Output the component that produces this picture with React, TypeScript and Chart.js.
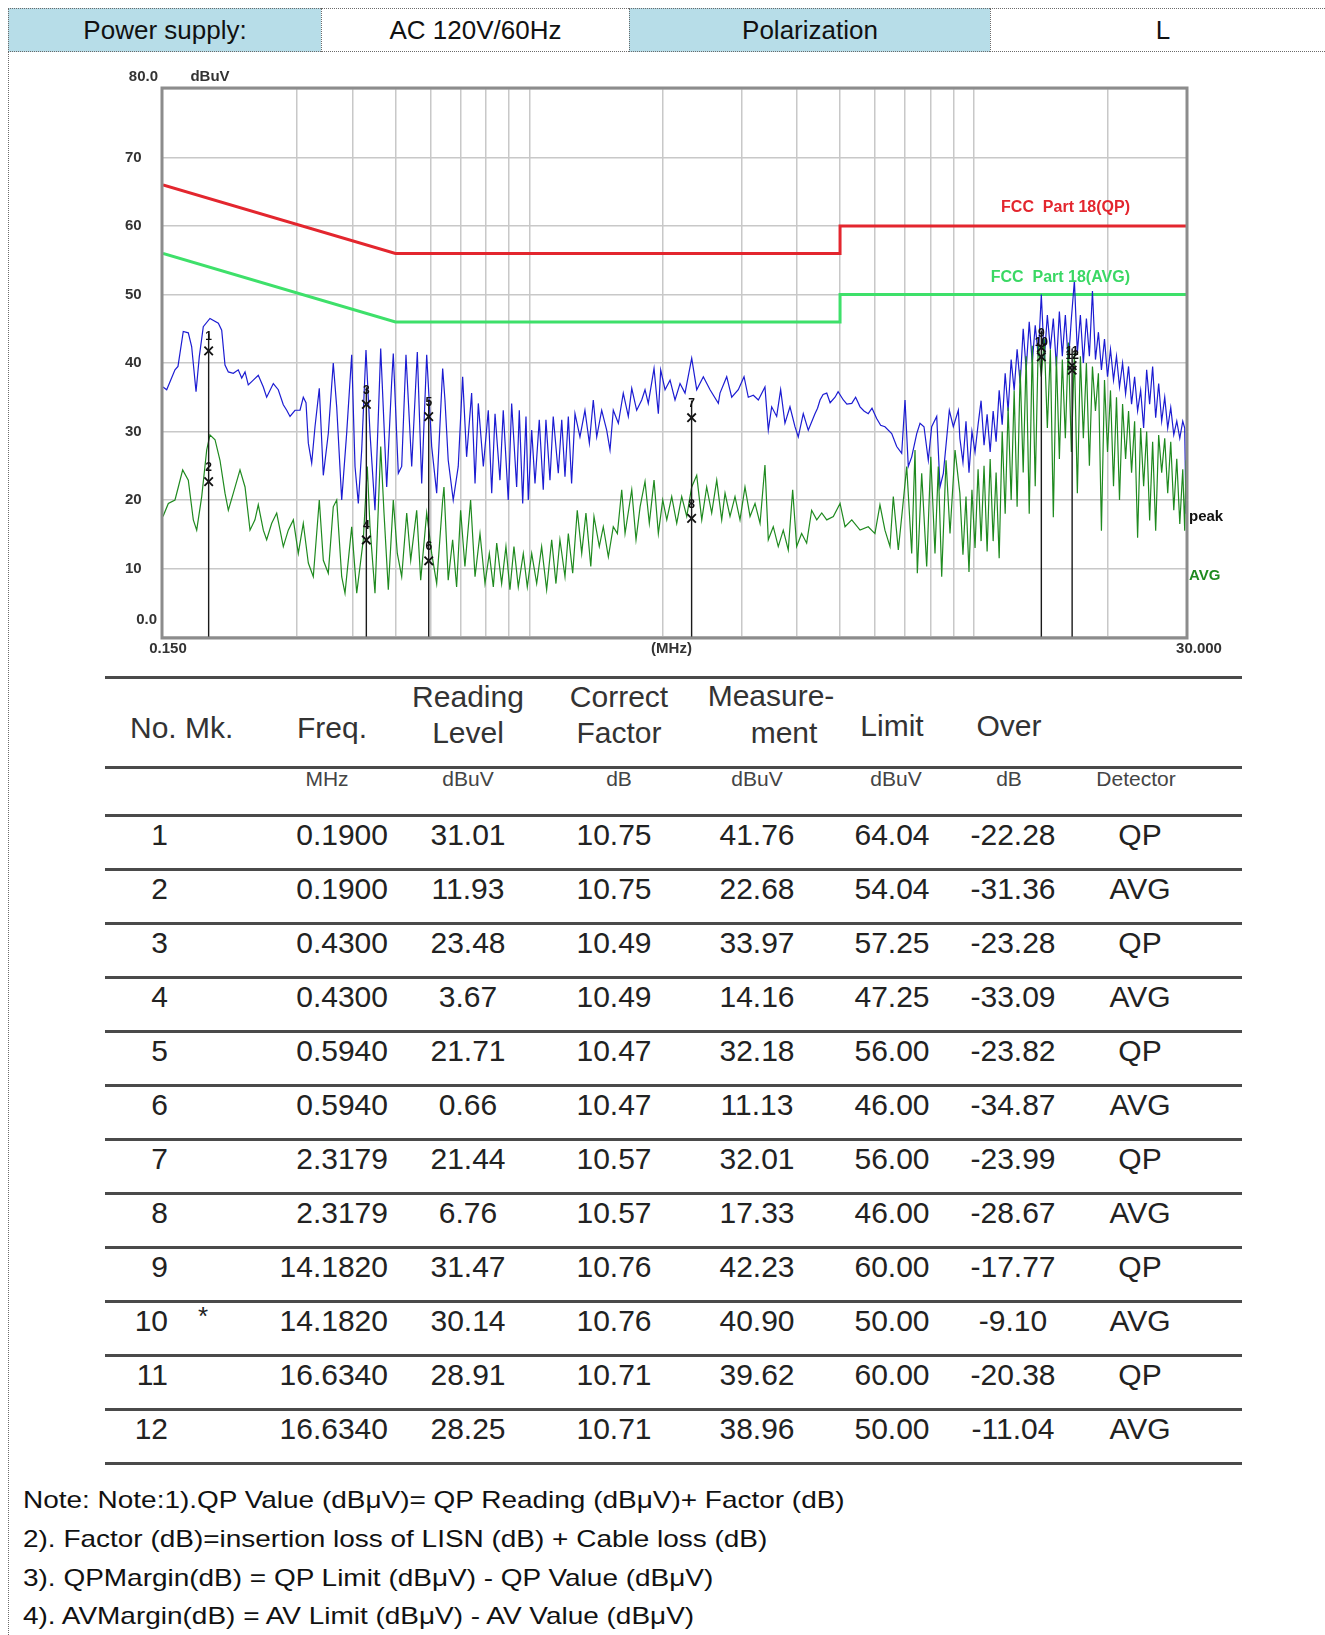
import React, { useEffect, useRef } from "react";
import { Chart, registerables } from "chart.js";

Chart.register(...registerables);

// peak detector scan (blue), MHz / dBuV
const peakFreq = [
    0.150, 0.1529, 0.1596, 0.1621, 0.1666, 0.1710, 0.1740, 0.1780, 0.1810, 0.1848,
    0.1913, 0.1998, 0.2033, 0.2068, 0.2104, 0.2159, 0.2215, 0.2255, 0.2294, 0.2333,
    0.2394, 0.2457, 0.2522, 0.2566, 0.2656, 0.2725, 0.2797, 0.2847, 0.2896, 0.2972,
    0.3050, 0.3102, 0.3146, 0.3184, 0.3240, 0.3296, 0.3370, 0.3441, 0.3531, 0.3623,
    0.3688, 0.3785, 0.3884, 0.3986, 0.4055, 0.4125, 0.4198, 0.4292, 0.4382, 0.4497,
    0.4632, 0.4778, 0.4903, 0.4944, 0.5074, 0.5164, 0.5280, 0.5439, 0.5599, 0.5728,
    0.5878, 0.6032, 0.6190, 0.6385, 0.6461, 0.6571, 0.6744, 0.6921, 0.7081, 0.7228,
    0.7418, 0.7550, 0.7679, 0.7881, 0.8087, 0.8231, 0.8374, 0.8590, 0.8738, 0.8967,
    0.9127, 0.9366, 0.9495, 0.9664, 0.9830, 0.9948, 1.0125, 1.030, 1.053, 1.075,
    1.090, 1.113, 1.132, 1.162, 1.183, 1.203, 1.224, 1.245, 1.267, 1.300,
    1.334, 1.365, 1.393, 1.418, 1.455, 1.493, 1.519, 1.545, 1.586, 1.627,
    1.670, 1.700, 1.744, 1.790, 1.821, 1.852, 1.908, 1.951, 1.975, 2.020,
    2.073, 2.127, 2.183, 2.240, 2.319, 2.380, 2.463, 2.550, 2.662, 2.685,
    2.780, 2.853, 2.952, 3.041, 3.109, 3.191, 3.275, 3.389, 3.448, 3.509,
    3.601, 3.676, 3.759, 3.858, 3.959, 4.027, 4.133, 4.241, 4.391, 4.45,
    4.508, 4.58, 4.667, 4.75, 4.872, 4.95, 5.086, 5.18, 5.313, 5.42,
    5.546, 5.66, 5.786, 5.90, 6.044, 6.17, 6.309, 6.534, 6.705, 6.881,
    7.000, 7.120, 7.247, 7.438, 7.566, 7.723, 7.897, 8.037, 8.249, 8.391,
    8.537, 8.806, 8.990, 9.227,
    9.30, 9.45, 9.60, 9.75, 9.90, 10.06, 10.22, 10.38, 10.54, 10.71,
    10.88, 11.05, 11.22, 11.40, 11.58, 11.76, 11.94, 12.13, 12.32, 12.51,
    12.71, 12.91, 13.11, 13.32, 13.53, 13.74, 13.96, 14.18, 14.40, 14.63,
    14.86, 15.09, 15.33, 15.57, 15.81, 16.06, 16.31, 16.57, 16.83, 17.09,
    17.36, 17.63, 17.91, 18.19, 18.48, 18.77, 19.06, 19.36, 19.67, 19.98,
    20.29, 20.61, 20.93, 21.26, 21.60, 21.94, 22.28, 22.63, 22.99, 23.35,
    23.72, 24.09, 24.47, 24.85, 25.24, 25.64, 26.04, 26.45, 26.87, 27.29,
    27.72, 28.16, 28.60, 29.05, 29.50, 29.80, 30.00,
];
const peakLevel = [
    36.5, 36.1, 39.0, 39.5, 44.6, 44.4, 42.4, 35.8, 40.9, 45.3,
    46.5, 45.8, 44.8, 39.7, 38.7, 38.5, 39.0, 37.8, 38.7, 36.8,
    37.5, 38.2, 36.5, 35.0, 37.0, 36.1, 33.9, 33.1, 32.2, 33.1,
    33.1, 35.0, 34.2, 28.3, 25.4, 30.7, 36.3, 23.6, 29.7, 40.0,
    33.6, 20.0, 29.8, 41.2, 24.9, 19.5, 27.3, 41.9, 29.8, 18.5,
    42.1, 21.9, 37.3, 41.4, 23.9, 24.9, 41.2, 24.9, 41.6, 22.4,
    41.2, 27.8, 21.0, 39.2, 34.6, 25.8, 20.0, 24.9, 38.0, 26.3,
    35.6, 22.4, 34.1, 24.9, 33.1, 21.0, 32.6, 22.9, 33.1, 20.0,
    34.1, 21.9, 33.1, 19.5, 32.2, 20.0, 30.2, 22.4, 31.7, 21.5,
    31.7, 22.9, 32.2, 23.9, 31.7, 23.4, 32.2, 22.4, 32.6, 29.2,
    33.1, 28.3, 34.6, 29.2, 33.1, 30.2, 27.3, 33.1, 31.2, 35.6,
    32.2, 36.3, 33.1, 34.6, 36.1, 34.1, 39.2, 32.6, 39.0, 36.1,
    37.5, 34.6, 37.0, 35.6, 40.7, 36.1, 38.0, 36.1, 34.1, 35.6,
    38.0, 35.0, 36.1, 38.0, 35.0, 35.3, 34.6, 36.5, 30.2, 33.6,
    32.2, 36.1, 31.2, 33.6, 30.7, 29.2, 32.6, 30.2, 32.6, 33.4,
    34.6, 35.4, 35.6, 34.2, 35.0, 35.8, 34.6, 34.0, 34.1, 35.0,
    33.6, 33.0, 32.6, 33.4, 31.9, 30.9, 30.7, 29.7, 27.8, 26.8,
    34.6, 24.9, 26.3, 29.7, 31.2, 30.7, 25.8, 30.7, 32.2, 21.9,
    23.9, 33.1, 30.7, 33.1,
    29.0, 25.5, 31.5, 24.0, 30.0, 27.0, 31.0, 34.5, 28.0, 32.5,
    27.0, 33.0, 28.5, 36.0, 31.0, 38.5, 33.0, 40.5, 36.0, 42.0,
    37.0, 45.0, 39.0, 46.0, 40.0, 45.5, 41.0, 50.0, 40.5, 47.0,
    42.0, 46.5, 39.5, 47.5, 41.0, 47.0, 40.0, 46.5, 52.0, 41.5,
    47.0, 40.0, 46.5, 41.0, 50.5, 40.5, 44.5, 39.0, 43.5, 38.0,
    42.0, 37.5, 41.0, 36.5, 40.0, 35.5, 39.5, 34.0, 38.0, 33.0,
    36.0, 30.5, 39.0, 34.0, 39.5, 32.0, 37.0, 31.5, 35.0, 30.5,
    33.5, 29.5, 31.5, 29.0, 31.5, 30.5, 18.0,
];

// average detector scan (green), MHz / dBuV
const avgFreq = [
    0.150, 0.1542, 0.1596, 0.1624, 0.1661, 0.1710, 0.1755, 0.1786, 0.1833, 0.1881,
    0.1913, 0.1964, 0.2015, 0.2068, 0.2104, 0.2159, 0.2235, 0.2294, 0.2354, 0.2415,
    0.2457, 0.2522, 0.2566, 0.2634, 0.2703, 0.2797, 0.2870, 0.2946, 0.3023, 0.3102,
    0.3184, 0.3267, 0.3370, 0.3441, 0.3531, 0.3623, 0.3688, 0.3785, 0.3850, 0.3986,
    0.4091, 0.4233, 0.4321, 0.4382, 0.4497, 0.4632, 0.4712, 0.4818, 0.4944, 0.5048,
    0.5164, 0.5300, 0.5411, 0.5581, 0.5698, 0.5878, 0.6032, 0.6190, 0.6385, 0.6428,
    0.6571, 0.6723, 0.6863, 0.7007, 0.7165, 0.7379, 0.7550, 0.7747, 0.7950, 0.8130,
    0.8300, 0.8447, 0.8666, 0.8861, 0.9047, 0.9236, 0.9446, 0.9694, 0.9897, 1.0125,
    1.039, 1.066, 1.094, 1.123, 1.148, 1.172, 1.203, 1.224, 1.252, 1.282,
    1.312, 1.341, 1.375, 1.398, 1.437, 1.467, 1.506, 1.545, 1.578, 1.614,
    1.642, 1.700, 1.738, 1.775, 1.821, 1.862, 1.908, 1.951, 1.996, 2.038,
    2.091, 2.146, 2.202, 2.260, 2.319, 2.380, 2.443, 2.506, 2.572, 2.640,
    2.709, 2.756, 2.828, 2.902, 2.978, 3.056, 3.137, 3.219, 3.304, 3.389,
    3.448, 3.538, 3.631, 3.726, 3.824, 3.912, 3.994, 4.098, 4.206, 4.316,
    4.432, 4.548, 4.667, 4.829, 5.000, 5.131, 5.313, 5.546, 5.786, 5.990,
    6.148, 6.309, 6.476, 6.588, 6.761, 6.917, 7.062, 7.247, 7.372, 7.461,
    7.632, 7.832, 8.000, 8.176, 8.317, 8.465, 8.657, 8.838, 9.070,
    9.30, 9.45, 9.60, 9.75, 9.90, 10.06, 10.22, 10.38, 10.54, 10.71,
    10.88, 11.05, 11.22, 11.40, 11.58, 11.76, 11.94, 12.13, 12.32, 12.51,
    12.71, 12.91, 13.11, 13.32, 13.53, 13.74, 13.96, 14.18, 14.40, 14.63,
    14.86, 15.09, 15.33, 15.57, 15.81, 16.06, 16.31, 16.57, 16.83, 17.09,
    17.36, 17.63, 17.91, 18.19, 18.48, 18.77, 19.06, 19.36, 19.67, 19.98,
    20.29, 20.61, 20.93, 21.26, 21.60, 21.94, 22.28, 22.63, 22.99, 23.35,
    23.72, 24.09, 24.47, 24.85, 25.24, 25.64, 26.04, 26.45, 26.87, 27.29,
    27.72, 28.16, 28.60, 29.05, 29.50, 29.80, 30.00,
];
const avgLevel = [
    17.6, 19.5, 20.0, 21.9, 24.4, 22.9, 17.1, 15.6, 20.5, 27.3,
    29.5, 28.8, 25.8, 21.0, 18.5, 21.0, 24.4, 21.9, 15.6, 17.1,
    19.3, 15.6, 14.2, 16.6, 18.1, 13.2, 15.6, 17.1, 12.2, 16.6,
    10.8, 8.8, 20.0, 11.2, 9.3, 19.0, 20.0, 8.8, 6.4, 16.1,
    6.4, 14.2, 24.9, 16.1, 6.4, 27.8, 18.1, 6.9, 20.0, 12.2,
    8.8, 18.1, 11.2, 18.5, 8.3, 18.1, 12.2, 7.8, 20.0, 21.9,
    8.3, 14.2, 7.3, 18.5, 10.3, 20.0, 8.8, 15.1, 7.8, 12.2,
    7.3, 13.7, 7.8, 13.2, 6.9, 13.2, 7.3, 12.2, 7.3, 12.2,
    7.8, 13.2, 6.9, 14.2, 7.8, 14.2, 8.8, 15.1, 9.3, 18.5,
    12.2, 18.1, 10.3, 17.6, 13.2, 16.1, 11.7, 16.1, 15.1, 21.5,
    15.1, 21.5, 14.2, 19.0, 22.7, 16.6, 22.9, 15.1, 20.0, 17.1,
    20.5, 16.6, 20.5, 17.6, 21.9, 23.6, 17.1, 21.9, 18.1, 22.9,
    17.1, 21.0, 17.6, 20.5, 17.1, 21.9, 17.6, 19.5, 16.6, 25.1,
    14.2, 16.1, 13.2, 15.6, 12.7, 21.5, 13.2, 15.1, 13.7, 18.5,
    17.1, 18.1, 17.1, 17.6, 19.5, 16.1, 17.1, 15.6, 16.1, 15.1,
    19.3, 15.6, 13.2, 20.5, 12.7, 19.0, 24.9, 12.2, 27.3, 9.3,
    23.9, 10.3, 26.3, 12.2, 24.9, 8.8, 25.8, 15.1, 27.3,
    21.0, 12.0, 20.5, 9.5, 21.5, 13.0, 24.5, 14.0, 25.0, 12.5,
    26.0, 14.0, 24.0, 11.5, 30.0, 18.0, 33.5, 20.0, 36.0, 19.0,
    39.0, 24.0, 41.0, 18.0, 42.5, 22.0, 43.0, 38.0, 43.5, 30.5,
    42.0, 17.5, 41.0, 26.0, 40.5, 29.0, 43.0, 27.0, 41.5, 21.0,
    41.0, 29.0, 40.0, 25.0, 39.5, 33.0, 38.5, 15.5, 37.5, 27.0,
    36.0, 22.0, 35.0, 20.0, 34.0, 26.0, 33.0, 24.0, 31.5, 14.5,
    30.5, 22.0, 30.0, 17.0, 28.5, 15.5, 29.5, 24.0, 29.0, 21.0,
    28.5, 18.5, 26.0, 16.5, 24.5, 15.5, 25.8,
];

const qpLimitFreq = [0.15, 0.5, 5, 5, 30];
const qpLimitLevel = [66, 56, 56, 60, 60];
const avLimitFreq = [0.15, 0.5, 5, 5, 30];
const avLimitLevel = [56, 46, 46, 50, 50];

const gridFreqs = [0.3, 0.4, 0.5, 0.6, 0.7, 0.8, 0.9, 1, 2, 3, 4, 5, 6, 7, 8, 9, 10, 20];
const levelLabels = [70, 60, 50, 40, 30, 20, 10];

// result table
const markerNo = [1, 2, 3, 4, 5, 6, 7, 8, 9, 10, 11, 12];
const markerMk = ["", "", "", "", "", "", "", "", "", "*", "", ""];
const markerFreq = [0.19, 0.19, 0.43, 0.43, 0.594, 0.594, 2.3179, 2.3179, 14.182, 14.182, 16.634, 16.634];
const readingLevel = [31.01, 11.93, 23.48, 3.67, 21.71, 0.66, 21.44, 6.76, 31.47, 30.14, 28.91, 28.25];
const correctFactor = [10.75, 10.75, 10.49, 10.49, 10.47, 10.47, 10.57, 10.57, 10.76, 10.76, 10.71, 10.71];
const measurement = [41.76, 22.68, 33.97, 14.16, 32.18, 11.13, 32.01, 17.33, 42.23, 40.90, 39.62, 38.96];
const limitLevel = [64.04, 54.04, 57.25, 47.25, 56.00, 46.00, 56.00, 46.00, 60.00, 50.00, 60.00, 50.00];
const overLevel = [-22.28, -31.36, -23.28, -33.09, -23.82, -34.87, -23.99, -28.67, -17.77, -9.10, -20.38, -11.04];
const detector = ["QP", "AVG", "QP", "AVG", "QP", "AVG", "QP", "AVG", "QP", "AVG", "QP", "AVG"];

const notes = [
    "Note: Note:1).QP Value (dBμV)= QP Reading (dBμV)+ Factor (dB)",
    "2). Factor (dB)=insertion loss of LISN (dB) + Cable loss (dB)",
    "3). QPMargin(dB) = QP Limit (dBμV) - QP Value (dBμV)",
    "4). AVMargin(dB) = AV Limit (dBμV) - AV Value (dBμV)",
];

const zip = (xs: number[], ys: (number | null)[]) => xs.map((x, i) => ({ x, y: ys[i] }));

const CHART_FONT = "Arial, 'Liberation Sans', sans-serif";

const labelPlugin = {
    id: "emcLabels",
    afterDatasetsDraw(chart: any) {
        const { ctx, chartArea: a, scales } = chart;
        const sx = scales.x;
        const sy = scales.y;
        const text = (s: string, x: number, y: number, align: CanvasTextAlign,
            color = "#333", font = `bold 15px ${CHART_FONT}`) => {
            ctx.font = font;
            ctx.fillStyle = color;
            ctx.textAlign = align;
            ctx.textBaseline = "middle";
            ctx.fillText(s, x, y);
        };
        ctx.save();
        // plot frame
        ctx.strokeStyle = "#8c8c8c";
        ctx.lineWidth = 3;
        ctx.strokeRect(a.left - 1, a.top - 1, a.right - a.left + 2, a.bottom - a.top + 2);

        // axis labels
        levelLabels.forEach((v) => text(String(v), a.left - 38, sy.getPixelForValue(v), "left"));
        text("80.0", a.left - 5, a.top - 12, "right");
        text("dBuV", a.left + 47, a.top - 12, "center");
        text("0.0", a.left - 6, a.bottom - 17, "right");
        text("0.150", a.left + 5, a.bottom + 12, "center");
        text("(MHz)", (a.left + a.right) / 2 - 3, a.bottom + 12, "center");
        text("30.000", a.right + 13, a.bottom + 12, "center");

        // limit names and trace names
        text("FCC  Part 18(QP)", a.right - 56, sy.getPixelForValue(60) - 18, "right",
            "#e3262e", `bold 16px ${CHART_FONT}`);
        text("FCC  Part 18(AVG)", a.right - 56, sy.getPixelForValue(50) - 17, "right",
            "#3ad864", `bold 16px ${CHART_FONT}`);
        text("peak", a.right + 3, sy.getPixelForValue(17.5), "left", "#111");
        text("AVG", a.right + 3, sy.getPixelForValue(8.9), "left", "#1f8a1f");

        // marker numbers
        markerNo.forEach((n, i) => {
            text(String(n), sx.getPixelForValue(markerFreq[i]),
                sy.getPixelForValue(measurement[i]) - 14, "center", "#111", `bold 12px ${CHART_FONT}`);
        });
        ctx.restore();
    },
};

const EmcChart = () => {
    const canvas = useRef<HTMLCanvasElement>(null);
    useEffect(() => {
        const lineData: { x: number; y: number | null }[] = [];
        for (let i = 0; i < markerFreq.length; i += 2) {
            const top = Math.max(measurement[i], measurement[i + 1]) + 2.5;
            lineData.push({ x: markerFreq[i], y: 0 }, { x: markerFreq[i], y: top },
                { x: markerFreq[i], y: null });
        }
        const gridStyle = { color: "#c8c8c8", lineWidth: 1.5, drawTicks: false };
        const chart = new Chart(canvas.current!, {
            type: "line",
            data: {
                datasets: [
                    {
                        label: "marker lines", data: lineData, borderColor: "#1a1a1a",
                        borderWidth: 1.4, pointRadius: 0, spanGaps: false, order: 0,
                    },
                    {
                        label: "markers", data: zip(markerFreq, measurement), showLine: false,
                        pointStyle: "crossRot", pointRadius: 6, pointBorderColor: "#111",
                        pointBorderWidth: 1.8, order: 0,
                    },
                    {
                        label: "AVG", data: zip(avgFreq, avgLevel), borderColor: "#1f8a1f",
                        borderWidth: 1.2, pointRadius: 0, order: 1,
                    },
                    {
                        label: "peak", data: zip(peakFreq, peakLevel), borderColor: "#1c1cd2",
                        borderWidth: 1.2, pointRadius: 0, order: 2,
                    },
                    {
                        label: "FCC Part 18(QP)", data: zip(qpLimitFreq, qpLimitLevel),
                        borderColor: "#e3262e", borderWidth: 3, pointRadius: 0, order: 3,
                    },
                    {
                        label: "FCC Part 18(AVG)", data: zip(avLimitFreq, avLimitLevel),
                        borderColor: "#3ee06a", borderWidth: 3, pointRadius: 0, order: 3,
                    },
                ],
            } as any,
            options: {
                animation: false,
                responsive: false,
                devicePixelRatio: 1,
                layout: { padding: { left: 63, right: 54, top: 29, bottom: 23 } },
                plugins: { legend: { display: false }, tooltip: { enabled: false } },
                elements: { line: { tension: 0 } },
                scales: {
                    x: {
                        type: "logarithmic", min: 0.15, max: 30,
                        afterBuildTicks: (s: any) => { s.ticks = gridFreqs.map((value) => ({ value })); },
                        afterFit: (s: any) => { s.height = 0; },
                        ticks: { display: false },
                        grid: gridStyle,
                        border: { display: false },
                    },
                    y: {
                        type: "linear", min: 0, max: 80,
                        afterFit: (s: any) => { s.width = 0; },
                        ticks: { display: false, stepSize: 10 },
                        grid: gridStyle,
                        border: { display: false },
                    },
                },
            } as any,
            plugins: [labelPlugin],
        });
        return () => chart.destroy();
    }, []);
    return (
        <canvas ref={canvas} width={1140} height={600}
            style={{ position: "absolute", left: 100, top: 60, width: 1140, height: 600 }} />
    );
};

const abs = (left: number, top: number, width: number, height: number): React.CSSProperties => ({
    position: "absolute", left, top, width, height, boxSizing: "border-box",
});

const InfoRow = () => {
    const cells = [
        { text: "Power supply:", left: 8, right: 321, shade: true },
        { text: "AC 120V/60Hz", left: 321, right: 629, shade: false },
        { text: "Polarization", left: 629, right: 990, shade: true },
        { text: "L", left: 990, right: 1335, shade: false },
    ];
    return (
        <>
            {cells.map((c) => (
                <div key={c.text} style={{
                    ...abs(c.left, 8, c.right - c.left, 44),
                    background: c.shade ? "#b7dde8" : "#fff",
                    borderLeft: "1px dotted #6a6a6a", borderTop: "1px dotted #6a6a6a",
                    borderBottom: "1px dotted #6a6a6a",
                    display: "flex", alignItems: "center", justifyContent: "center",
                    font: `26px ${CHART_FONT}`, color: "#111",
                }}>{c.text}</div>
            ))}
            <div style={{ ...abs(8, 52, 1, 1583), borderLeft: "1px dotted #6a6a6a" }} />
        </>
    );
};

const ResultTable = () => {
    const rowTop = 815;
    const rowH = 54;
    const line = (y: number) => (
        <div key={`l${y}`} style={{ ...abs(105, y - 1.5, 1137, 3), background: "#4a4a4a" }} />
    );
    const cell = (t: string, x: number, yc: number, align: "center" | "right" | "left",
        size: number, color = "#222", key?: string) => {
        const w = 240;
        const left = align === "center" ? x - w / 2 : align === "right" ? x - w : x;
        return (
            <div key={key ?? `${t}-${x}-${yc}`} style={{
                ...abs(left, yc - 20, w, 40), lineHeight: "40px", textAlign: align,
                font: `${size}px ${CHART_FONT}`, color, whiteSpace: "nowrap",
            }}>{t}</div>
        );
    };
    const lines = [677, 767];
    for (let i = 0; i <= markerNo.length; i++) lines.push(rowTop + i * rowH);
    return (
        <>
            {lines.map(line)}
            {cell("No. Mk.", 130, 731, "left", 30, "#333")}
            {cell("Freq.", 332, 731, "center", 30, "#333")}
            {cell("Reading", 468, 700, "center", 30, "#333")}
            {cell("Level", 468, 736, "center", 30, "#333")}
            {cell("Correct", 619, 700, "center", 30, "#333")}
            {cell("Factor", 619, 736, "center", 30, "#333")}
            {cell("Measure-", 771, 699, "center", 30, "#333")}
            {cell("ment", 784, 736, "center", 30, "#333")}
            {cell("Limit", 892, 729, "center", 30, "#333")}
            {cell("Over", 1009, 729, "center", 30, "#333")}
            {cell("MHz", 327, 787, "center", 21, "#444")}
            {cell("dBuV", 468, 787, "center", 21, "#444", "u1")}
            {cell("dB", 619, 787, "center", 21, "#444", "u2")}
            {cell("dBuV", 757, 787, "center", 21, "#444", "u3")}
            {cell("dBuV", 896, 787, "center", 21, "#444", "u4")}
            {cell("dB", 1009, 787, "center", 21, "#444", "u5")}
            {cell("Detector", 1136, 787, "center", 21, "#444")}
            {markerNo.map((n, i) => {
                const yc = rowTop + i * rowH + 23;
                return (
                    <React.Fragment key={n}>
                        {cell(String(n), 168, yc, "right", 30)}
                        {markerMk[i] && cell(markerMk[i], 203, yc - 3, "center", 26)}
                        {cell(markerFreq[i].toFixed(4), 388, yc, "right", 30)}
                        {cell(readingLevel[i].toFixed(2), 468, yc, "center", 30)}
                        {cell(correctFactor[i].toFixed(2), 614, yc, "center", 30)}
                        {cell(measurement[i].toFixed(2), 757, yc, "center", 30)}
                        {cell(limitLevel[i].toFixed(2), 892, yc, "center", 30)}
                        {cell(overLevel[i].toFixed(2), 1013, yc, "center", 30)}
                        {cell(detector[i], 1140, yc, "center", 30)}
                    </React.Fragment>
                );
            })}
        </>
    );
};

const Notes = () => (
    <>
        {notes.map((t, i) => (
            <div key={i} style={{
                ...abs(23, [1502, 1541, 1580, 1618][i] - 16, 1000, 32), lineHeight: "32px",
                font: `24px ${CHART_FONT}`, color: "#111", whiteSpace: "nowrap",
                transform: "scaleX(1.165)", transformOrigin: "left center",
            }}>{t}</div>
        ))}
    </>
);

export default function App() {
    return (
        <div style={{ position: "absolute", left: 0, top: 0, width: 1325, height: 1635, background: "#fff", overflow: "hidden" }}>
            <InfoRow />
            <EmcChart />
            <ResultTable />
            <Notes />
        </div>
    );
}
